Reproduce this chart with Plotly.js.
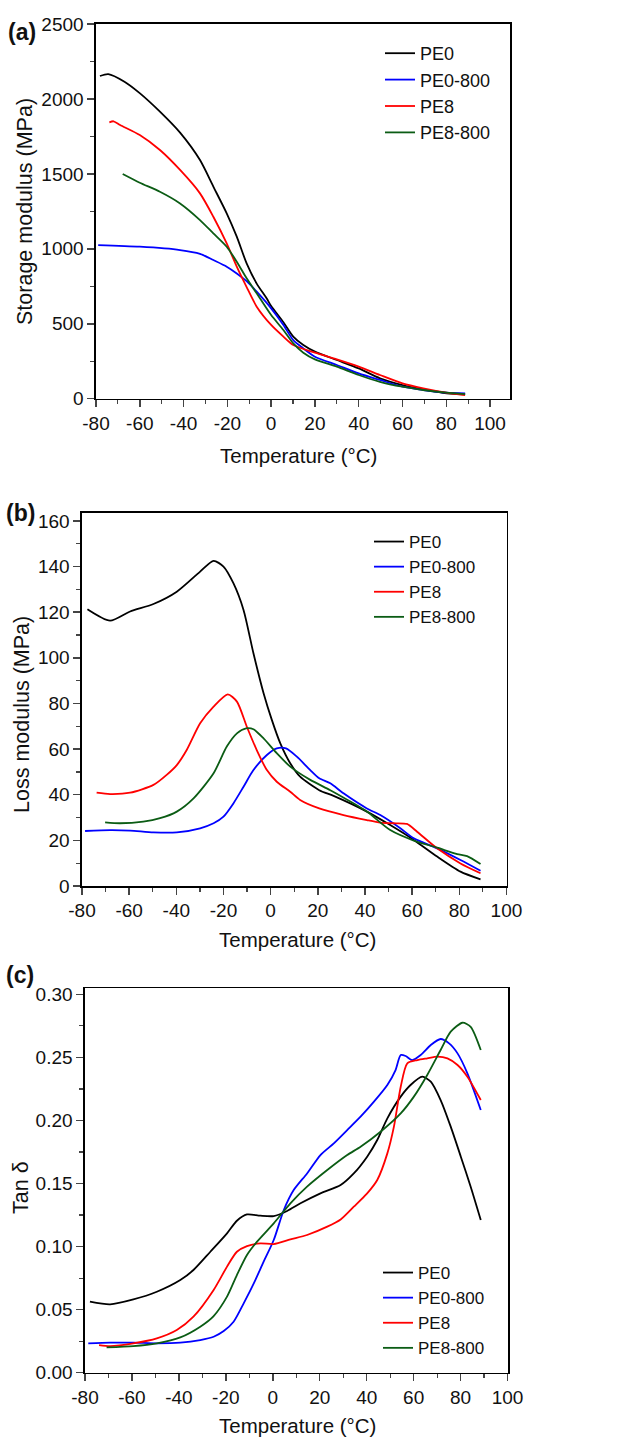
<!DOCTYPE html>
<html>
<head>
<meta charset="utf-8">
<script src="https://cdn.plot.ly/plotly-3.0.1.min.js"></script>
<style>html,body{margin:0;padding:0;background:#fff;}#chart{width:633px;height:1437px;}</style>
</head>
<body>
<div id="chart"></div>
<script>
// ---------- Data ----------
const seriesNames = ["PE0", "PE0-800", "PE8", "PE8-800"];
const seriesColors = ["#000000", "#0000ff", "#ff0000", "#0b5c14"];

// (a) Storage modulus (MPa)
const aPE0_T = [-78.2,-74.4,-67,-59.9,-50.8,-41.6,-32.5,-26.4,-20.3,-15.7,-11.2,-6.6,-2.0,0,5.6,10.1,14.7,20,30,40,49.7,60,69.5,80.2,88.6];
const aPE0_V = [2153,2166,2115,2037,1915,1775,1592,1415,1237,1081,903,768,668,618,510,414,358,314,258,202,136,91,62,36,29];
const aPE0800_T = [-79,-60,-41.6,-32.5,-26.4,-20.3,-15.7,-11.2,-6.6,0,5.6,10.1,14.7,20,30,40,49.7,60,69.5,80,88.6];
const aPE0800_V = [1025,1014,992,967,925,881,836,784,714,603,492,391,336,280,225,169,125,80,58,40,36];
const aPE8_T = [-73.9,-72,-69,-60,-50.8,-41.6,-32.5,-26.4,-20.3,-15.7,-11.2,-6.6,0,5.6,10.1,20,30,40,49.7,60,69.5,80,88.6];
const aPE8_V = [1844,1851,1826,1759,1659,1526,1370,1214,1036,881,745,614,492,414,358,307,262,214,158,102,69,40,24];
const aPE8800_T = [-67.8,-60,-50.8,-41.6,-32.5,-26.4,-20.3,-15.7,-11.2,-6.6,0,5.6,10.1,14.7,20,30,40,49.7,60,69.5,80,88.6];
const aPE8800_V = [1499,1441,1381,1303,1192,1103,1014,914,803,703,558,458,369,307,262,214,158,113,80,58,40,31];

// (b) Loss modulus (MPa)
const bPE0_T = [-77.7,-68.1,-59.6,-49.7,-39.8,-29.9,-24.2,-20,-15.8,-11.5,-7.3,-3,0.5,4.1,8.3,12.5,20.6,26.7,40.8,50.7,60.7,70.6,80.5,89];
const bPE0_V = [121.3,116.3,120.3,123.6,129,137.8,142.5,140,132.7,121,102,84.5,72.8,62.5,53.8,47.9,42,39.5,32.6,26.7,20.2,12.9,6.3,2.9];
const bPE0800_T = [-78.7,-68.1,-59.6,-49.7,-39.8,-29.9,-24.2,-20,-15.8,-11.5,-7.3,-1.6,2.6,6.5,11.1,16.8,20.6,25.3,30.9,40.8,46.5,55,60.7,70.6,80.5,89];
const bPE0800_V = [24.1,24.5,24.3,23.5,23.5,25.3,27.5,30.4,36.2,43.5,50.8,57.4,60.3,60.3,56.7,50.8,47.2,45,40.6,34,31.1,25.3,20.9,16.5,11.4,6.7];
const bPE8_T = [-73.8,-68.1,-59.6,-49.7,-44.1,-39.8,-35.6,-29.9,-24.2,-18.2,-14.3,-10.1,-5.9,-1.6,2.6,8.3,12.5,20.6,30.9,40.8,46.5,52.2,57.8,62.1,70.6,80.5,89];
const bPE8_V = [40.9,40.3,40.9,44.3,48.7,53,59.6,71.3,78.6,84,80.8,69.8,59.6,50.8,45.7,41.3,37.7,34,31.1,28.9,27.8,27.5,27.2,23.8,16.5,9.9,5.6];
const bPE8800_T = [-70.2,-63.9,-54,-46.9,-39.8,-32.7,-24.2,-18.6,-14.3,-10.4,-7.3,-3,2.6,8.3,16.8,25.3,33.8,40.8,50.7,60.7,70.6,79.1,83.3,89];
const bPE8800_V = [27.9,27.5,28.2,29.7,32.6,38.4,49.4,61.1,66.9,69.1,68.7,64.7,58.2,52.3,46.5,42,37,32.6,24.5,19.9,16.8,14,13.1,9.6];

// (c) Tan delta
const cPE0_T = [-77.9,-69.3,-59.4,-49.4,-39.4,-33.8,-26.6,-19.5,-15.3,-11,-5.3,0.4,6.1,11.8,20.3,28.9,34.5,40.2,44.5,48.8,54.5,58.7,63.7,67.3,71.5,75.8,80.1,84.3,88.6];
const cPE0_V = [0.0563,0.0542,0.0581,0.0642,0.0735,0.0814,0.0959,0.1105,0.1205,0.1255,0.1245,0.1242,0.1282,0.1343,0.1422,0.1488,0.158,0.1713,0.1845,0.2017,0.2189,0.2281,0.2347,0.2308,0.2162,0.1951,0.1713,0.1475,0.1211];
const cPE0800_T = [-78.6,-69.3,-59.4,-49.4,-39.4,-30.9,-25.2,-20.9,-16.7,-12.4,-8.1,-3.9,0.4,4.7,8.9,14.6,20.3,26,31.7,37.4,43.1,48.8,52.3,54.5,56.6,59.4,63,67.3,71.5,75.1,78.7,82.9,88.6];
const cPE0800_V = [0.0233,0.0238,0.0238,0.0233,0.0238,0.0259,0.0285,0.033,0.0404,0.055,0.0708,0.088,0.1052,0.129,0.1448,0.158,0.1726,0.1819,0.1924,0.203,0.2149,0.2281,0.24,0.2519,0.2511,0.2479,0.2519,0.2598,0.2646,0.2611,0.2532,0.2374,0.2083];
const cPE8_T = [-74,-69.3,-59.4,-49.4,-40.9,-33.8,-25.2,-19.5,-15.3,-11,-5.3,0.4,7.5,14.6,23.2,28.9,34.5,40.2,44.5,48.8,51.6,54.5,57.3,61.6,65.8,70.1,74.4,78.7,82.9,88.6];
const cPE8_V = [0.0219,0.0211,0.0233,0.0272,0.0338,0.0444,0.0656,0.0841,0.0959,0.1004,0.1026,0.102,0.1057,0.1092,0.1158,0.1215,0.1316,0.1422,0.1528,0.1739,0.1951,0.2267,0.2453,0.2479,0.2493,0.2506,0.2493,0.244,0.2347,0.2162];
const cPE8800_T = [-70.8,-59.4,-49.4,-39.4,-30.9,-25.2,-19.5,-15.3,-11,-6.7,0.4,7.5,14.6,23.2,31.7,37.4,45.9,54.5,60.1,65.8,71.5,75.8,80.8,84.3,88.6];
const cPE8800_V = [0.0201,0.0211,0.0233,0.028,0.0365,0.0449,0.0603,0.0774,0.0933,0.1039,0.1184,0.1343,0.1475,0.1607,0.1726,0.1792,0.1911,0.2056,0.2189,0.2361,0.2559,0.2704,0.2775,0.2743,0.2559];

const xTickVals = [-80,-60,-40,-20,0,20,40,60,80,100];
const xTickText = ["-80","-60","-40","-20","0","20","40","60","80","100"];

// ---------- Layout helpers ----------
const W = 633, H = 1437;
const px = v => v / W;
const py = v => 1 - v / H;
const FONT = "Liberation Sans, Arial, sans-serif";
const TXT = "#111";

const panels = [
  {T:[aPE0_T,aPE0800_T,aPE8_T,aPE8800_T], V:[aPE0_V,aPE0800_V,aPE8_V,aPE8800_V]},
  {T:[bPE0_T,bPE0800_T,bPE8_T,bPE8800_T], V:[bPE0_V,bPE0800_V,bPE8_V,bPE8800_V]},
  {T:[cPE0_T,cPE0800_T,cPE8_T,cPE8800_T], V:[cPE0_V,cPE0800_V,cPE8_V,cPE8800_V]}
];
const legendIds = ["legend","legend2","legend3"];
const traces = [];
panels.forEach((p, i) => {
  const sfx = i === 0 ? "" : String(i + 1);
  for (let k = 0; k < 4; k++) {
    traces.push({
      type: "scatter", mode: "lines",
      x: p.T[k], y: p.V[k], name: seriesNames[k],
      xaxis: "x" + sfx, yaxis: "y" + sfx,
      legend: legendIds[i],
      line: {color: seriesColors[k], width: 1.8, shape: "spline", smoothing: 0.7}
    });
  }
});

function xAx(domain, range, anchor) {
  return {domain, range, anchor, tickvals: xTickVals, ticktext: xTickText, ticks: "outside", ticklen: 7, tickwidth: 1.5,
    showline: true, mirror: true, linecolor: "#000", linewidth: 1.6, showgrid: false, zeroline: false,
    tickfont: {family: FONT, size: 19, color: TXT},
    minor: {ticks: "outside", ticklen: 4, tickwidth: 1.2, dtick: 10, tick0: 0, showgrid: false}};
}
function yAx(domain, range, anchor, dtick, minorD, fmt) {
  return {domain, range, anchor, dtick, tick0: 0, ticks: "outside", ticklen: 7, tickwidth: 1.5,
    showline: true, mirror: true, linecolor: "#000", linewidth: 1.6, showgrid: false, zeroline: false,
    tickformat: fmt || "", tickfont: {family: FONT, size: 19, color: TXT},
    minor: {ticks: "outside", ticklen: 4, tickwidth: 1.2, dtick: minorD, tick0: 0, showgrid: false}};
}
function leg(xp, ytop, fs) {
  return {x: px(xp), y: py(ytop), xanchor: "left", yanchor: "top", bgcolor: "rgba(0,0,0,0)",
    font: {family: FONT, size: fs, color: TXT}, borderwidth: 0};
}
function ann(text, x, y, opts) {
  return Object.assign({text, x: px(x), y: py(y), xref: "paper", yref: "paper", showarrow: false,
    xanchor: "center", yanchor: "middle", font: {family: FONT, size: 20.5, color: TXT}}, opts || {});
}
const yTitleFont = {family: FONT, size: 21.5, color: TXT};
const tagFont = {family: FONT, size: 23, color: TXT};

const layout = {
  width: W, height: H, margin: {l: 0, r: 0, t: 0, b: 0},
  paper_bgcolor: "#fff", plot_bgcolor: "#fff",
  xaxis: xAx([px(96), px(510)], [-80, 109.1], "y"),
  yaxis: yAx([py(398.7), py(24)], [0, 2500], "x", 500, 250),
  xaxis2: xAx([px(82), px(506.7)], [-80, 100.1], "y2"),
  yaxis2: yAx([py(886), py(512.7)], [0, 163.6], "x2", 20, 10),
  xaxis3: xAx([px(85), px(508)], [-80, 100.2], "y3"),
  yaxis3: yAx([py(1372.7), py(988.3)], [0, 0.3048], "x3", 0.05, 0.025, ".2f"),
  legend: leg(380, 35, 18),
  legend2: leg(369, 524, 17),
  legend3: leg(378, 1255, 17),
  annotations: [
    ann("<b>(a)</b>", 22, 32, {font: tagFont}),
    ann("<b>(b)</b>", 20, 513, {font: tagFont}),
    ann("<b>(c)</b>", 20, 975, {font: tagFont}),
    ann("Temperature (°C)", 298, 455),
    ann("Temperature (°C)", 297, 940),
    ann("Temperature (°C)", 297.5, 1425),
    ann("Storage modulus (MPa)", 25, 212, {textangle: -90, font: yTitleFont}),
    ann("Loss modulus (MPa)", 22, 715, {textangle: -90, font: yTitleFont}),
    ann("Tan δ", 21, 1188, {textangle: -90, font: yTitleFont})
  ]
};

Plotly.newPlot("chart", traces, layout, {displayModeBar: false, staticPlot: true});
</script>
</body>
</html>
